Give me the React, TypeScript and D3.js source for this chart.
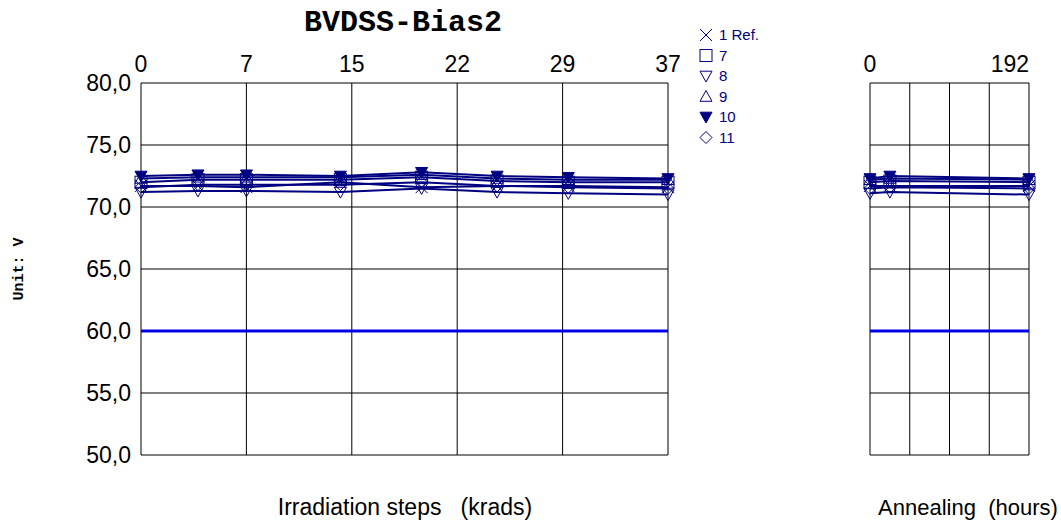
import { line, range, scaleLinear, format } from "d3";

const irrSteps = [0, 4, 7.4, 14, 19.7, 25, 30, 37];
const annSteps = [0, 24, 192];
const irrTickLabels = ["0", "7", "15", "22", "29", "37"];
const annTickLabels = ["0", "192"];
const yTicks = [50, 55, 60, 65, 70, 75, 80];
const limit = 60;

const seriesNames = ["1 Ref.", "7", "8", "9", "10", "11"];
const seriesMarkers = ["cross", "square", "down", "up", "downFilled", "diamond"];

const irrValues = [
  [71.7, 71.7, 71.6, 72.0, 71.6, 71.7, 71.7, 71.6],
  [72.0, 72.2, 72.2, 72.2, 72.4, 72.1, 72.0, 72.0],
  [71.2, 71.3, 71.3, 71.2, 71.5, 71.2, 71.1, 71.0],
  [72.3, 72.4, 72.4, 72.4, 72.6, 72.3, 72.2, 72.2],
  [72.5, 72.6, 72.6, 72.5, 72.8, 72.5, 72.4, 72.3],
  [71.6, 71.8, 71.8, 71.8, 72.0, 71.7, 71.6, 71.5],
];

const annValues = [
  [71.7, 71.7, 71.7],
  [72.0, 72.1, 72.0],
  [71.1, 71.2, 71.0],
  [72.2, 72.3, 72.2],
  [72.3, 72.5, 72.3],
  [71.5, 71.6, 71.5],
];

const NAVY = "#000080";

function Marker({ kind, x, y, s }: { kind: string; x: number; y: number; s: number }) {
  const h = s / 2;
  const common = { stroke: NAVY, strokeWidth: 1, fill: "none" };
  if (kind === "cross")
    return <path d={`M${x - h},${y - h}L${x + h},${y + h}M${x - h},${y + h}L${x + h},${y - h}`} {...common} />;
  if (kind === "square") return <rect x={x - h} y={y - h} width={s} height={s} {...common} />;
  if (kind === "down" || kind === "downFilled")
    return (
      <path
        d={`M${x - h},${y - h * 0.8}L${x + h},${y - h * 0.8}L${x},${y + h}Z`}
        {...common}
        fill={kind === "downFilled" ? NAVY : "none"}
      />
    );
  if (kind === "up") return <path d={`M${x - h},${y + h * 0.8}L${x + h},${y + h * 0.8}L${x},${y - h}Z`} {...common} />;
  return <path d={`M${x},${y - h}L${x + h},${y}L${x},${y + h}L${x - h},${y}Z`} {...common} />;
}

export default function App() {
  const width = 1061;
  const height = 523;
  const y = scaleLinear().domain([50, 80]).range([455, 83]);
  const xIrr = scaleLinear().domain([0, 37]).range([141, 668]);
  const xAnn = scaleLinear().domain([0, 192]).range([870, 1029]);
  const fmt = (v: number) => format(".1f")(v).replace(".", ",");
  const irrGrid = range(6).map((i) => (i * 37) / 5);
  const annGrid = range(5).map((i) => (i * 192) / 4);

  const panels = [
    { x: xIrr, grid: irrGrid, steps: irrSteps, values: irrValues, labels: irrTickLabels, labelAt: irrGrid, lastEnd: false },
    { x: xAnn, grid: annGrid, steps: annSteps, values: annValues, labels: annTickLabels, labelAt: [0, 192], lastEnd: true },
  ];

  const font = "'Liberation Sans', Arial, sans-serif";
  const mono = "'Liberation Mono', 'Courier New', monospace";

  return (
    <div style={{ position: "absolute", left: 0, top: 0 }}>
      <svg width={width} height={height} style={{ display: "block", background: "#fff" }}>
        <text x={403} y={31} textAnchor="middle" fontFamily={mono} fontWeight="bold" fontSize={30}>
          BVDSS-Bias2
        </text>
        <text
          transform={`translate(23,${y(65)}) rotate(-90)`}
          textAnchor="middle"
          fontFamily={mono}
          fontWeight="bold"
          fontSize={15}
        >
          Unit: V
        </text>
        {yTicks.map((t) => (
          <text key={t} x={131} y={y(t) + 8} textAnchor="end" fontFamily={font} fontSize={23}>
            {fmt(t)}
          </text>
        ))}
        {panels.map((p, pi) => {
          const [x0, x1] = p.x.range();
          return (
            <g key={pi}>
              {yTicks.map((t) => (
                <line key={t} x1={x0} x2={x1} y1={y(t)} y2={y(t)} stroke="#000" strokeWidth={1} />
              ))}
              {p.grid.map((g) => (
                <line key={g} x1={p.x(g)} x2={p.x(g)} y1={y(80)} y2={y(50)} stroke="#000" strokeWidth={1} />
              ))}
              {p.labels.map((l, i) => (
                <text
                  key={l}
                  x={p.x(p.labelAt[i])}
                  y={y(80) - 11}
                  textAnchor={p.lastEnd && i === p.labels.length - 1 ? "end" : "middle"}
                  fontFamily={font}
                  fontSize={23}
                >
                  {l}
                </text>
              ))}
              <line x1={x0} x2={x1} y1={y(limit)} y2={y(limit)} stroke="#0000e6" strokeWidth={3} />
              {p.values.map((vals, si) => {
                const pts = vals.map((v, i) => [p.x(p.steps[i]), y(v)] as [number, number]);
                return <path key={si} d={line()(pts) ?? ""} fill="none" stroke={NAVY} strokeWidth={2} />;
              })}
              {p.values.map((vals, si) =>
                vals.map((v, i) => (
                  <Marker key={`${si}-${i}`} kind={seriesMarkers[si]} x={p.x(p.steps[i])} y={y(v)} s={12} />
                ))
              )}
            </g>
          );
        })}
        <text x={405} y={515} textAnchor="middle" fontFamily={font} fontSize={23} xmlSpace="preserve">
          Irradiation steps   (krads)
        </text>
        <text x={968} y={515} textAnchor="middle" fontFamily={font} fontSize={22} xmlSpace="preserve">
          Annealing  (hours)
        </text>
        {seriesNames.map((n, i) => {
          const ly = 35 + i * 20.5;
          return (
            <g key={n}>
              <Marker kind={seriesMarkers[i]} x={706} y={ly} s={12} />
              <text x={719} y={ly + 5} fontFamily={font} fontSize={15} fill={NAVY}>
                {n}
              </text>
            </g>
          );
        })}
      </svg>
    </div>
  );
}
